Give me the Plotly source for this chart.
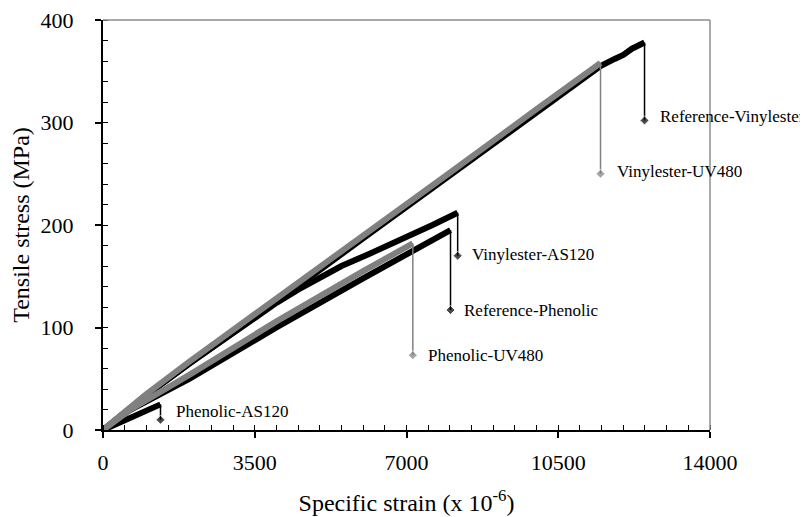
import plotly.graph_objects as go

# ---- data (strain x 10^-6, stress MPa) ----
ref_vinyl_strain = [0, 1000, 2000, 4000, 6000, 8000, 10000, 11475, 11800, 12000, 12200, 12490]
ref_vinyl_stress = [0, 34, 65, 125, 187, 248, 310, 355, 362, 366, 372, 378]
ref_vinyl_fail = 302

vinyl_uv_strain = [0, 1000, 2000, 4000, 6000, 8000, 10000, 11475]
vinyl_uv_stress = [0, 35, 67, 128, 190, 251, 313, 358]
vinyl_uv_fail = 250

vinyl_as_strain = [0, 1000, 2000, 3500, 4000, 4500, 5000, 5500, 6150, 7000, 7600, 8180]
vinyl_as_stress = [0, 34, 65, 110, 124, 137, 149, 160, 172, 188, 200, 212]
vinyl_as_fail = 170

ref_phen_strain = [0, 300, 600, 2000, 4000, 6000, 8015]
ref_phen_stress = [0, 10, 19, 50, 100, 148, 195]
ref_phen_fail = 117

phen_uv_strain = [0, 300, 640, 2000, 4000, 6000, 7146]
phen_uv_stress = [0, 10, 20, 54, 106, 155, 182]
phen_uv_fail = 73

phen_as_strain = [0, 700, 1326]
phen_as_stress = [0, 14, 25]
phen_as_fail = 10

series = [
    ("Reference-Vinylester", ref_vinyl_strain, ref_vinyl_stress, ref_vinyl_fail, "#000000"),
    ("Vinylester-UV480", vinyl_uv_strain, vinyl_uv_stress, vinyl_uv_fail, "#808080"),
    ("Vinylester-AS120", vinyl_as_strain, vinyl_as_stress, vinyl_as_fail, "#000000"),
    ("Reference-Phenolic", ref_phen_strain, ref_phen_stress, ref_phen_fail, "#000000"),
    ("Phenolic-UV480", phen_uv_strain, phen_uv_stress, phen_uv_fail, "#808080"),
    ("Phenolic-AS120", phen_as_strain, phen_as_stress, phen_as_fail, "#000000"),
]
# label offsets (strain units, stress units) relative to failure marker
label_dx = [320, 340, 290, 270, 300, 320]
label_dy = [4, 2, 1, 0, 0, 8]

x_ticks = [0, 3500, 7000, 10500, 14000]
y_ticks = [0, 100, 200, 300, 400]

FONT = "Liberation Serif"

fig = go.Figure()
order = [0, 2, 3, 5, 1, 4]
for i in order:
    name, xs, ys, fail, col = series[i]
    fig.add_trace(go.Scatter(x=xs, y=ys, mode="lines",
                             line=dict(color=col, width=6),
                             hoverinfo="skip", showlegend=False))
for i in order:
    name, xs, ys, fail, col = series[i]
    fig.add_trace(go.Scatter(x=[xs[-1], xs[-1]], y=[ys[-1], fail], mode="lines+markers",
                             line=dict(color=col, width=1.5),
                             marker=dict(symbol="diamond", size=[0, 7], color=col),
                             hoverinfo="skip", showlegend=False))
    fig.add_annotation(x=xs[-1] + label_dx[i], y=fail + label_dy[i], text=name,
                       showarrow=False, xanchor="left", yanchor="middle",
                       font=dict(family=FONT, size=17, color="#000000"))

axis_common = dict(showgrid=False, zeroline=False, showline=True, linecolor="black",
                   linewidth=2, ticks="outside", ticklen=6, tickwidth=1.5, tickcolor="black",
                   automargin=False, ticklabeloverflow="allow",
                   tickfont=dict(family=FONT, size=22, color="#000000"))
fig.update_xaxes(range=[0, 14000], tickvals=x_ticks, ticktext=[str(v) for v in x_ticks],
                 ticklabelstandoff=6,
                 minor=dict(ticks="inside", ticklen=5, dtick=500, tickwidth=1.2, tickcolor="black"),
                 title=dict(text="Specific strain (x 10<sup>-6</sup>)", standoff=20,
                            font=dict(family=FONT, size=24, color="#000000")),
                 **axis_common)
fig.update_yaxes(range=[0, 400], tickvals=y_ticks, ticktext=[str(v) for v in y_ticks],
                 ticklabelstandoff=17,
                 minor=dict(ticks="inside", ticklen=5, dtick=20, tickwidth=1.2, tickcolor="black"),
                 title=dict(text="Tensile stress (MPa)", standoff=4,
                            font=dict(family=FONT, size=24, color="#000000")),
                 **axis_common)

# grey frame on top and right of plot area
fig.add_shape(type="line", xref="paper", yref="paper", x0=0, x1=1, y0=1, y1=1,
              line=dict(color="#8c8c8c", width=1.5))
fig.add_shape(type="line", xref="paper", yref="paper", x0=1, x1=1, y0=0, y1=1,
              line=dict(color="#8c8c8c", width=1.5))

# page body adds an 8px offset, so the figure is sized to fit the window
fig.update_layout(width=800, height=509, margin=dict(l=95, r=98, t=12, b=87),
                  plot_bgcolor="white", paper_bgcolor="white",
                  font=dict(family=FONT, color="#000000"))

fig.write_html("out.html")
